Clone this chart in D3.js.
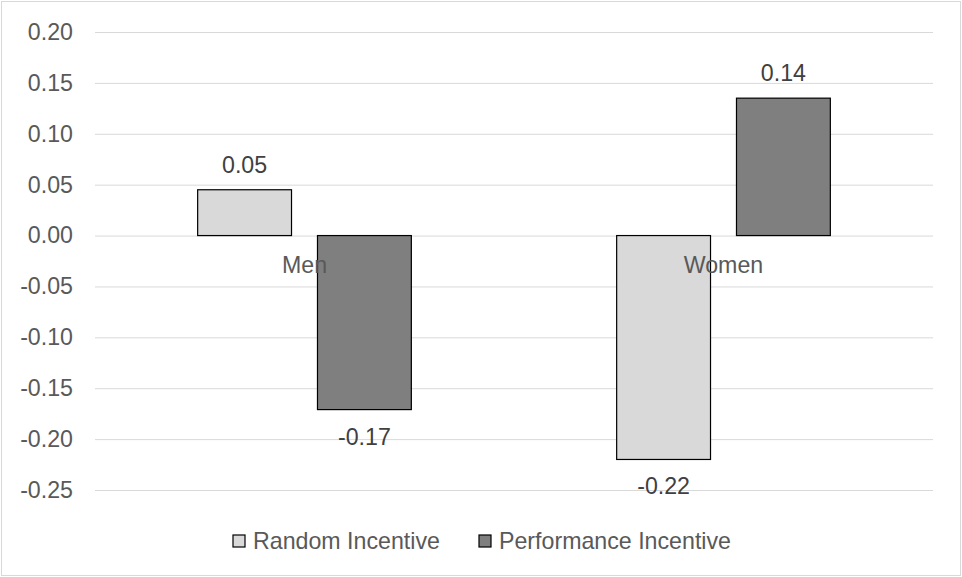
<!DOCTYPE html>
<html>
<head>
<meta charset="utf-8">
<script src="https://cdn.jsdelivr.net/npm/d3@7"></script>
<style>
  html, body { margin: 0; padding: 0; background: #fff; }
  svg { display: block; font-family: "Liberation Sans", Arial, sans-serif; }
</style>
</head>
<body>
<svg id="chart" width="962" height="577"></svg>
<script>
const categories = ["Men", "Women"];
const seriesNames = ["Random Incentive", "Performance Incentive"];
const randomValues = [0.045, -0.22];
const performanceValues = [-0.171, 0.135];
const valueLabels = [["0.05", "-0.17"], ["-0.22", "0.14"]]; // [category][series]
const yTicks = [0.20, 0.15, 0.10, 0.05, 0.00, -0.05, -0.10, -0.15, -0.20, -0.25];
const seriesColors = ["#d9d9d9", "#7f7f7f"];

const svg = d3.select("#chart");
const W = 962, H = 577;
const fontSize = 23.2;

// Outer border
svg.append("rect").attr("x", 1.5).attr("y", 1.5).attr("width", W - 3).attr("height", H - 3)
  .attr("fill", "#fff").attr("stroke", "#d9d9d9").attr("stroke-width", 1);

const plot = { left: 95, right: 933, top: 32, bottom: 490 };

const y = d3.scaleLinear().domain([-0.25, 0.20]).range([plot.bottom, plot.top]);
const x0 = d3.scaleBand().domain(categories).range([plot.left, plot.right])
  .paddingInner(0.49).paddingOuter(0.245);
const x1 = d3.scaleBand().domain(seriesNames).range([0, x0.bandwidth()]).paddingInner(0.2167);

// Gridlines
const yAxis = d3.axisLeft(y).tickValues(yTicks).tickSize(-(plot.right - plot.left)).tickPadding(22)
  .tickFormat(d => (Math.abs(d) < 1e-9 ? 0 : d).toFixed(2));
const gy = svg.append("g").attr("transform", `translate(${plot.left},0)`).call(yAxis);
gy.select(".domain").remove();
gy.selectAll(".tick line").attr("stroke", "#d9d9d9").attr("stroke-width", 1);
gy.selectAll(".tick text").attr("fill", "#595959").style("font-size", fontSize + "px")
  .style("font-family", "'Liberation Sans', Arial, sans-serif");

// Data rows
const rows = categories.map((c, i) => ({
  cat: c,
  vals: [
    { s: seriesNames[0], v: randomValues[i], label: valueLabels[i][0], color: seriesColors[0] },
    { s: seriesNames[1], v: performanceValues[i], label: valueLabels[i][1], color: seriesColors[1] }
  ]
}));

const groups = svg.append("g").selectAll("g").data(rows).join("g")
  .attr("transform", d => `translate(${x0(d.cat)},0)`);

groups.selectAll("rect").data(d => d.vals).join("rect")
  .attr("x", d => x1(d.s))
  .attr("width", x1.bandwidth())
  .attr("y", d => y(Math.max(0, d.v)))
  .attr("height", d => Math.abs(y(d.v) - y(0)))
  .attr("fill", d => d.color)
  .attr("stroke", "#000").attr("stroke-width", 1.2);

// Category labels near the zero axis
svg.append("g").selectAll("text").data(categories).join("text")
  .attr("x", d => x0(d) + x0.bandwidth() / 2)
  .attr("y", y(0) + 37)
  .attr("text-anchor", "middle")
  .attr("fill", "#595959")
  .style("font-size", fontSize + "px")
  .text(d => d);

// Data labels
groups.selectAll("text.val").data(d => d.vals).join("text")
  .attr("class", "val")
  .attr("x", d => x1(d.s) + x1.bandwidth() / 2)
  .attr("y", d => d.v >= 0 ? y(d.v) - 17 : y(d.v) + 35)
  .attr("text-anchor", "middle")
  .attr("fill", "#404040")
  .style("font-size", fontSize + "px")
  .text(d => d.label);

// Legend
const legendX = [233, 479];
const legend = svg.append("g").selectAll("g").data(seriesNames).join("g")
  .attr("transform", (d, i) => `translate(${legendX[i]},535)`);
legend.append("rect").attr("width", 12).attr("height", 12)
  .attr("fill", (d, i) => seriesColors[i]).attr("stroke", "#000").attr("stroke-width", 1.2);
legend.append("text").attr("x", 20).attr("y", 14)
  .attr("fill", "#595959").style("font-size", fontSize + "px").text(d => d);
</script>
</body>
</html>
